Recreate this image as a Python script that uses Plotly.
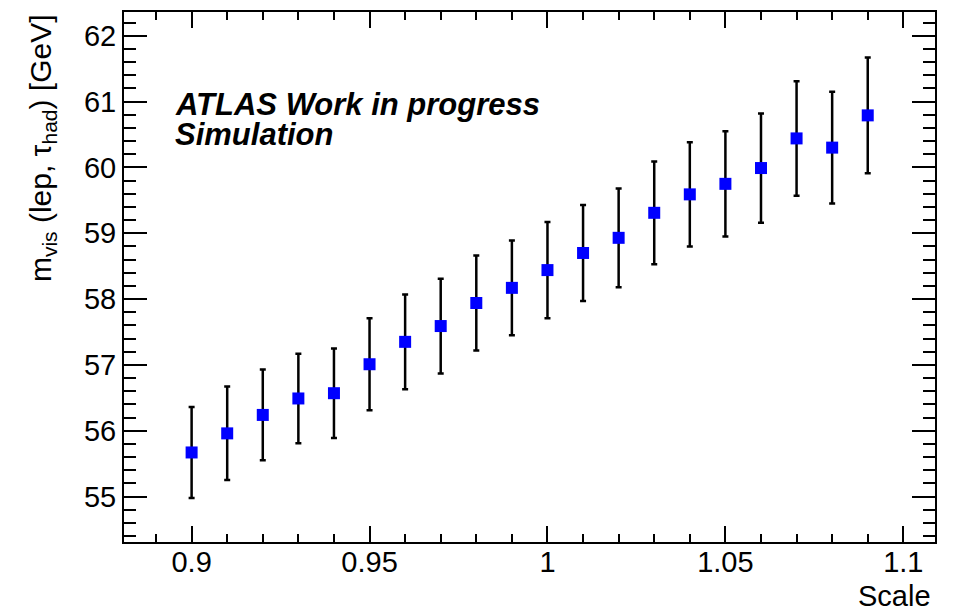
import plotly.graph_objects as go

# Energy-scale variation and the fitted visible mass at each point
scale = [0.90, 0.91, 0.92, 0.93, 0.94, 0.95, 0.96, 0.97, 0.98, 0.99,
         1.00, 1.01, 1.02, 1.03, 1.04, 1.05, 1.06, 1.07, 1.08, 1.09]
m_vis = [55.67, 55.96, 56.24, 56.49, 56.57, 57.01, 57.35, 57.59, 57.94, 58.17,
         58.44, 58.70, 58.93, 59.31, 59.59, 59.75, 59.99, 60.44, 60.30, 60.79]
m_err = [0.69, 0.71, 0.69, 0.68, 0.68, 0.70, 0.72, 0.72, 0.72, 0.72,
         0.73, 0.73, 0.75, 0.78, 0.79, 0.80, 0.83, 0.87, 0.85, 0.88]

x_ticks = [0.9, 0.95, 1.0, 1.05, 1.1]
x_labels = ["0.9", "0.95", "1", "1.05", "1.1"]
y_ticks = [55, 56, 57, 58, 59, 60, 61, 62]

FONT = "Liberation Sans, Arial, Helvetica, sans-serif"

fig = go.Figure()
fig.add_trace(go.Scatter(
    x=scale, y=m_vis, mode="markers",
    marker=dict(symbol="square", size=12, color="#0000ff"),
    error_y=dict(type="data", array=m_err, visible=True,
                 color="black", thickness=2.5, width=3),
    showlegend=False,
))

axis_common = dict(
    showline=True, linecolor="black", linewidth=2,
    mirror="allticks", ticks="inside", tickcolor="black",
    showgrid=False, zeroline=False,
    tickfont=dict(family=FONT, size=29, color="black"),
)

fig.update_xaxes(
    range=[0.881, 1.1089], tickvals=x_ticks, ticktext=x_labels,
    ticklen=16, tickwidth=2, ticklabelstandoff=-7,
    minor=dict(ticks="inside", dtick=0.01, tick0=0.9, ticklen=8,
               tickwidth=2, tickcolor="black", showgrid=False),
    **axis_common,
)
fig.update_yaxes(
    range=[54.31, 62.36], tickvals=y_ticks,
    ticklen=23, tickwidth=2,
    minor=dict(ticks="inside", dtick=0.2, tick0=55, ticklen=12,
               tickwidth=2, tickcolor="black", showgrid=False),
    **axis_common,
)

# Experiment label, two lines
for line, ypos in [("ATLAS Work in progress", 0.825), ("Simulation", 0.769)]:
    fig.add_annotation(
        text=f"<i><b>{line}</b></i>",
        xref="paper", yref="paper", x=0.0604, y=ypos,
        xanchor="left", yanchor="middle", showarrow=False,
        font=dict(family=FONT, size=31, color="black"),
    )

fig.add_annotation(
    text="m<sub>vis</sub> (lep, τ<sub>had</sub>) [GeV]",
    xref="paper", yref="paper", x=-0.101, y=1.0,
    xanchor="center", yanchor="top", textangle=-90, showarrow=False,
    font=dict(family=FONT, size=30, color="black"),
)
fig.add_annotation(
    text="Scale",
    xref="paper", yref="paper", x=0.9975, y=-0.1015,
    xanchor="right", yanchor="middle", showarrow=False,
    font=dict(family=FONT, size=29, color="black"),
)

fig.update_layout(
    width=955, height=611,
    margin=dict(l=124, r=20, t=10, b=69),
    paper_bgcolor="white", plot_bgcolor="white",
)

fig.write_html("out.html")
